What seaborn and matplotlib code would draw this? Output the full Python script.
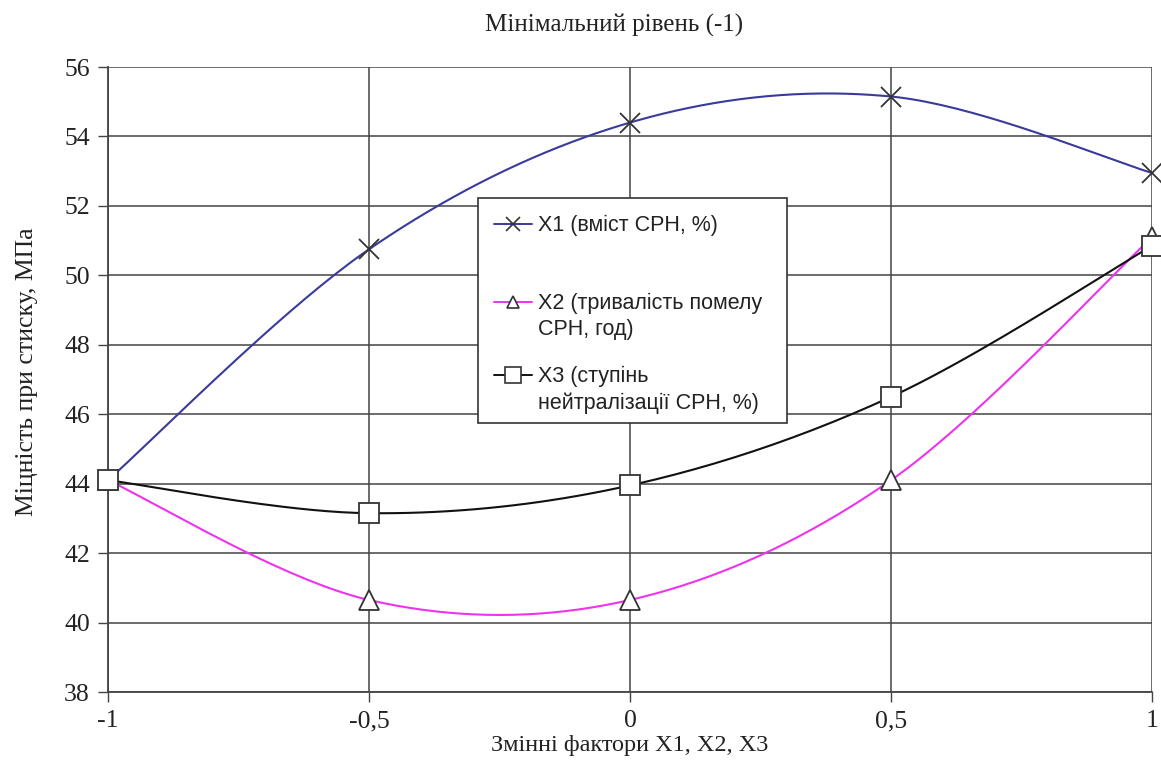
import numpy as np
import pandas as pd
import matplotlib
matplotlib.use("Agg")
import matplotlib.pyplot as plt
from matplotlib.lines import Line2D
from matplotlib.patches import Rectangle
import seaborn as sns

# Factor levels and measured compressive strength (MPa)
levels = [-1.0, -0.5, 0.0, 0.5, 1.0]
x1_strength = [44.1, 50.75, 54.4, 55.15, 52.95]
x2_strength = [44.1, 40.65, 40.65, 44.1, 51.1]
x3_strength = [44.1, 43.15, 43.95, 46.5, 50.85]

series_labels = [
    "X1 (вміст СРН, %)",
    "X2 (тривалість помелу\nСРН, год)",
    "X3 (ступінь\nнейтралізації СРН, %)",
]
series_values = [x1_strength, x2_strength, x3_strength]
line_colors = ["#3a3a9c", "#ee33ee", "#111111"]
marker_styles = ["x", "^", "s"]
marker_sizes = [14.5, 14, 14]
legend_marker_sizes = [9.5, 8, 11]

x_tick_labels = ["-1", "-0,5", "0", "0,5", "1"]
y_ticks = list(range(38, 57, 2))

title_text = "Мінімальний рівень (-1)"
x_label_text = "Змінні фактори Х1, Х2, Х3"
y_label_text = "Міцність при стиску, МПа"

FIG_W, FIG_H = 1161, 765
AX_L, AX_R, AX_T, AX_B = 108, 1152, 67, 692


def smooth_curve(xs, ys, n=40):
    """Cubic Hermite (Catmull-Rom) smoothing through the given points."""
    xs = np.asarray(xs, float)
    ys = np.asarray(ys, float)
    px = np.concatenate([[xs[0]], xs, [xs[-1]]])
    py = np.concatenate([[ys[0]], ys, [ys[-1]]])
    out_x, out_y = [], []
    for i in range(1, len(px) - 2):
        p0, p1, p2, p3 = (np.array([px[j], py[j]]) for j in (i - 1, i, i + 1, i + 2))
        m1 = (p2 - p0) / 2.0
        m2 = (p3 - p1) / 2.0
        t = np.linspace(0, 1, n, endpoint=(i == len(px) - 3))
        h00 = 2 * t**3 - 3 * t**2 + 1
        h10 = t**3 - 2 * t**2 + t
        h01 = -2 * t**3 + 3 * t**2
        h11 = t**3 - t**2
        pts = (np.outer(h00, p1) + np.outer(h10, m1)
               + np.outer(h01, p2) + np.outer(h11, m2))
        out_x.extend(pts[:, 0])
        out_y.extend(pts[:, 1])
    return np.array(out_x), np.array(out_y)


def ax_frac(px, py):
    """Pixel position on the canvas -> axes fraction."""
    return (px - AX_L) / (AX_R - AX_L), (AX_B - py) / (AX_B - AX_T)


sns.set_theme(style="white")
plt.rcParams["font.family"] = ["Liberation Serif", "DejaVu Serif"]

fig = plt.figure(figsize=(FIG_W / 100, FIG_H / 100), dpi=100)
ax = fig.add_axes([AX_L / FIG_W, 1 - AX_B / FIG_H,
                   (AX_R - AX_L) / FIG_W, (AX_B - AX_T) / FIG_H])

for vals, color in zip(series_values, line_colors):
    cx, cy = smooth_curve(levels, vals)
    sns.lineplot(x=cx, y=cy, ax=ax, color=color, linewidth=1.5,
                 sort=False, estimator=None, zorder=3)

for vals, mk, ms in zip(series_values, marker_styles, marker_sizes):
    df = pd.DataFrame({"x": levels, "y": vals})
    if mk == "x":
        ax.plot(df["x"], df["y"], linestyle="none", marker="x", markersize=ms,
                markeredgecolor="#333333", markeredgewidth=1.3, zorder=5,
                clip_on=False)
    else:
        ax.plot(df["x"], df["y"], linestyle="none", marker=mk, markersize=ms,
                markerfacecolor="white", markeredgecolor="#333333",
                markeredgewidth=1.3, zorder=5, clip_on=False)

ax.set_xlim(-1, 1)
ax.set_ylim(38, 56)
ax.set_xticks(levels)
ax.set_xticklabels(x_tick_labels)
ax.set_yticks(y_ticks)

ax.grid(True, color="#444444", linewidth=1.1)
ax.set_axisbelow(True)
for side in ["top", "right"]:
    ax.spines[side].set_visible(False)
for side in ["left", "bottom"]:
    ax.spines[side].set_color("#444444")
    ax.spines[side].set_linewidth(1.3)

ax.tick_params(axis="both", which="major", direction="out", length=7,
               width=1.0, color="#444444", labelsize=18.5, labelcolor="#222222",
               bottom=True, left=True, pad=6)

fig.text(614 / FIG_W, 1 - 25 / FIG_H, title_text, fontsize=18,
         color="#222222", ha="center", va="center")
ax.set_xlabel(x_label_text, fontsize=17.5, color="#222222", labelpad=2)
ax.set_ylabel(y_label_text, fontsize=18.5, color="#222222")
ax.yaxis.set_label_coords(*ax_frac(38, 372))

# Legend box with the entries laid out line by line
lx0, ly0 = ax_frac(478, 423)
lx1, ly1 = ax_frac(787, 198)
ax.add_patch(Rectangle((lx0, ly0), lx1 - lx0, ly1 - ly0, transform=ax.transAxes,
                       facecolor="white", edgecolor="#333333", linewidth=1.2,
                       zorder=6, clip_on=False))
legend_rows = [224, 302, 375]
legend_font = {"family": ["Liberation Sans", "DejaVu Sans"], "size": 15.5}
for label, color, mk, ms, row in zip(series_labels, line_colors, marker_styles,
                                     legend_marker_sizes, legend_rows):
    hx0, hy = ax_frac(494, row)
    hx1, _ = ax_frac(532, row)
    hm, _ = ax_frac(513, row)
    ax.add_line(Line2D([hx0, hx1], [hy, hy], color=color, linewidth=1.4,
                       transform=ax.transAxes, zorder=7))
    if mk == "x":
        ax.add_line(Line2D([hm], [hy], linestyle="none", marker="x",
                           markersize=ms, markeredgecolor="#333333",
                           markeredgewidth=1.2, transform=ax.transAxes, zorder=8))
    else:
        ax.add_line(Line2D([hm], [hy], linestyle="none", marker=mk,
                           markersize=ms, markerfacecolor="white",
                           markeredgecolor="#333333", markeredgewidth=1.2,
                           transform=ax.transAxes, zorder=8))
    tx, ty = ax_frac(538, row - 9)
    ax.text(tx, ty, label, transform=ax.transAxes, ha="left", va="top",
            color="#222222", linespacing=1.3, zorder=8, fontdict=legend_font)

fig.savefig("out.png", dpi=100, facecolor="white")
